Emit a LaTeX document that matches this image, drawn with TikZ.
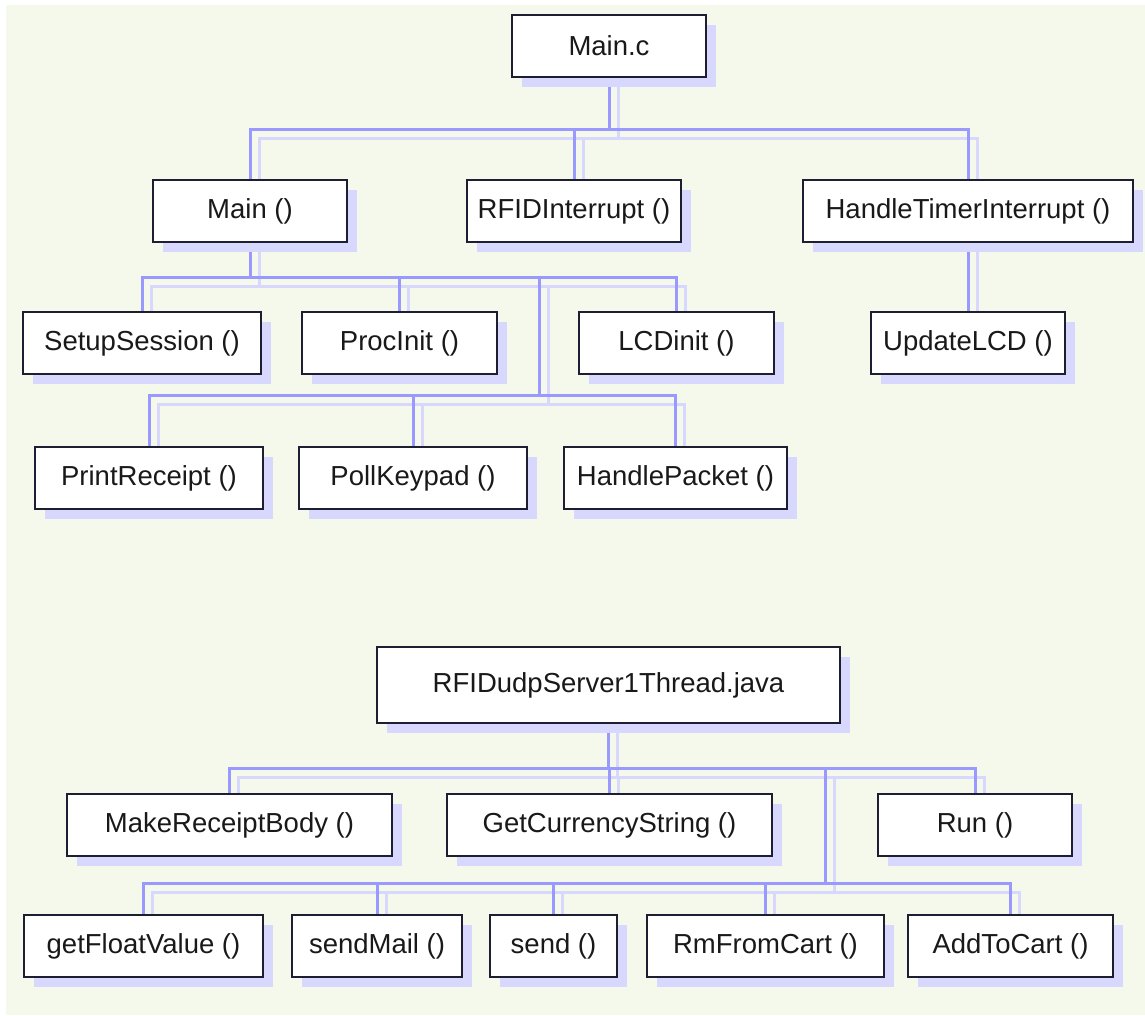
\documentclass[tikz,border=0pt]{standalone}
\usepackage{fontspec}
\setmainfont{Liberation Sans}
\usetikzlibrary{shadows}
\pgfdeclarelayer{background}
\pgfsetlayers{background,main}
\definecolor{bgc}{RGB}{245,249,236}
\definecolor{linec}{RGB}{153,153,255}
\definecolor{shadc}{RGB}{216,216,255}
\definecolor{boxc}{RGB}{30,30,50}
\begin{document}
\begin{tikzpicture}[x=1pt,y=-1pt,
  box/.style={draw=boxc, line width=1.6pt, fill=white, inner sep=0pt,
    minimum height=62pt, font=\fontsize{27.5}{30}\selectfont, text=black!90,
    drop shadow={shadow xshift=10pt, shadow yshift=-10pt, fill=shadc, opacity=1}},
  conn/.style={draw=linec, line width=3pt},
  connshadow/.style={draw=shadc, line width=3pt, transform canvas={shift={(9pt,-9pt)}}}]

\node[box, minimum width=194pt] (mainc) at (609,46) {Main.c};
\node[box, minimum width=194pt] (mainf) at (250,211) {Main ()};
\node[box, minimum width=214pt] (rfidint) at (574,211) {RFIDInterrupt ()};
\node[box, minimum width=330pt] (htimer) at (968,211) {HandleTimerInterrupt ()};
\node[box, minimum width=238pt] (setup) at (142,343) {SetupSession ()};
\node[box, minimum width=195pt] (procinit) at (399.5,343) {ProcInit ()};
\node[box, minimum width=195pt] (lcdinit) at (676.5,343) {LCDinit ()};
\node[box, minimum width=194pt] (updlcd) at (968,343) {UpdateLCD ()};
\node[box, minimum width=228pt] (print) at (149,478) {PrintReceipt ()};
\node[box, minimum width=228pt] (poll) at (413,478) {PollKeypad ()};
\node[box, minimum width=223pt] (hpacket) at (675.5,478) {HandlePacket ()};
\node[box, minimum width=463pt, minimum height=76pt] (rfidudp) at (608.5,685) {RFIDudpServer1Thread.java};
\node[box, minimum width=325pt] (makerb) at (229.5,825) {MakeReceiptBody ()};
\node[box, minimum width=325pt] (getcur) at (609.5,825) {GetCurrencyString ()};
\node[box, minimum width=194pt] (run) at (975,825) {Run ()};
\node[box, minimum width=239pt] (getfloat) at (143.5,946) {getFloatValue ()};
\node[box, minimum width=170pt] (sendmail) at (377,946) {sendMail ()};
\node[box, minimum width=127pt] (send) at (553.5,946) {send ()};
\node[box, minimum width=237pt] (rmcart) at (765.5,946) {RmFromCart ()};
\node[box, minimum width=205pt] (addcart) at (1010.5,946) {AddToCart ()};

\coordinate (b1) at (609,129);
\coordinate (b2) at (250,277);
\coordinate (sp1) at (539,277);
\coordinate (b3) at (539,395);
\coordinate (b4) at (608.5,768);
\coordinate (sp2) at (825,768);
\coordinate (b5) at (825,883);

\begin{pgfonlayer}{background}
  \fill[white] (0,0) rectangle (1145,1015);
  \fill[bgc] (6,5) rectangle (1145,1015);
  \useasboundingbox (0,0) rectangle (1145,1015);
  \foreach \s in {connshadow,conn}{
    \draw[\s] (mainc.south) -- (b1);
    \draw[\s] (b1) -| (mainf.north);
    \draw[\s] (b1) -| (rfidint.north);
    \draw[\s] (b1) -| (htimer.north);
    \draw[\s] (mainf.south) -- (b2);
    \draw[\s] (b2) -| (setup.north);
    \draw[\s] (b2) -| (procinit.north);
    \draw[\s] (b2) -| (lcdinit.north);
    \draw[\s] (sp1) -- (b3);
    \draw[\s] (b3) -| (print.north);
    \draw[\s] (b3) -| (poll.north);
    \draw[\s] (b3) -| (hpacket.north);
    \draw[\s] (htimer.south) -- (updlcd.north);
    \draw[\s] (rfidudp.south) -- (b4);
    \draw[\s] (b4) -| (makerb.north);
    \draw[\s] (b4) -| (getcur.north);
    \draw[\s] (b4) -| (run.north);
    \draw[\s] (sp2) -- (b5);
    \draw[\s] (b5) -| (getfloat.north);
    \draw[\s] (b5) -| (sendmail.north);
    \draw[\s] (b5) -| (send.north);
    \draw[\s] (b5) -| (rmcart.north);
    \draw[\s] (b5) -| (addcart.north);
  }
\end{pgfonlayer}
\end{tikzpicture}
\end{document}
